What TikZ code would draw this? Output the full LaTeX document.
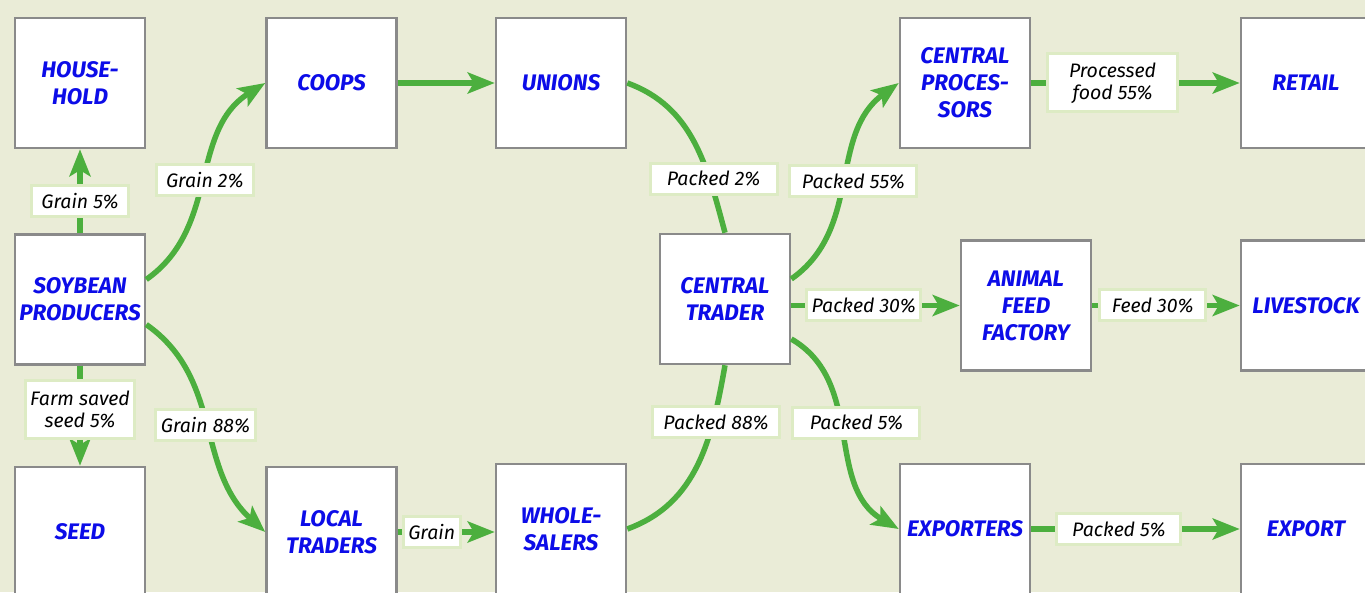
\documentclass[tikz,border=0pt]{standalone}
\usepackage{fontspec}
\setmainfont{Fira Sans}
\usepackage{xcolor}
\usepackage{tikz}
\usetikzlibrary{arrows.meta}

\definecolor{bgcol}{RGB}{234,236,215}
\definecolor{flowgreen}{RGB}{76,175,62}
\definecolor{boxgray}{RGB}{138,138,138}
\definecolor{shareborder}{RGB}{221,235,196}
\definecolor{actorblue}{RGB}{12,12,232}

\begin{document}
\begin{tikzpicture}[
    x=1pt, y=1pt,
    actor/.style={rectangle, draw=boxgray, line width=2.5pt, fill=white, minimum width=130pt, minimum height=130pt, inner sep=2pt, align=center, text=actorblue, font=\fontsize{22.5}{27}\selectfont\bfseries\itshape},
    flow/.style={-{Stealth[length=27pt, width=21pt, inset=6pt]}, line width=5.5pt, flowgreen},
    link/.style={line width=5.5pt, flowgreen},
    share/.style={rectangle, fill=white, draw=shareborder, line width=3pt, text=black, inner xsep=5pt, inner ysep=3pt, minimum height=31pt, align=center, font=\fontsize{19.5}{22}\selectfont\itshape}
]

\fill[bgcol] (0,0) rectangle (1365,592);
\useasboundingbox (0,0) rectangle (1365,592);

\node[actor] (house) at (80,509) {HOUSE-\\HOLD};
\node[actor] (soy) at (80,292.5) {SOYBEAN\\PRODUCERS};
\node[actor] (seed) at (80,60) {SEED};
\node[actor] (coops) at (331.5,509) {COOPS};
\node[actor] (unions) at (561,509) {UNIONS};
\node[actor] (local) at (331.5,60) {LOCAL\\TRADERS};
\node[actor] (whole) at (561,63) {WHOLE-\\SALERS};
\node[actor] (trader) at (725,293) {CENTRAL\\TRADER};
\node[actor] (cproc) at (965,509) {CENTRAL\\PROCES-\\SORS};
\node[actor] (retail) at (1306,509) {RETAIL};
\node[actor] (feed) at (1026,286.5) {ANIMAL\\FEED\\FACTORY};
\node[actor] (stock) at (1306,286.5) {LIVESTOCK};
\node[actor] (exporters) at (965,63) {EXPORTERS};
\node[actor] (export) at (1306,63) {EXPORT};

\draw[flow] (soy) -- (house) node[share, pos=0.38, minimum width=97pt] (s-house) {Grain 5\%};
\draw[flow] (soy) -- (seed) node[share, pos=0.44, minimum height=58pt] (s-seed) {Farm saved\\seed 5\%};
\draw[flow] ([yshift=20pt]soy.east) to[out=35, in=212] node[share, pos=0.5, minimum width=97pt] (s-coops) {Grain 2\%} (coops.west);
\draw[flow] ([yshift=-25pt]soy.east) to[out=-35, in=138] node[share, pos=0.5, xshift=-3pt, minimum width=97pt] (s-local) {Grain 88\%} (local.west);

\draw[flow] (coops) -- (unions);
\draw[flow] (local.east) -- (local.east -| whole.west) node[share, pos=0.35] (s-whole) {Grain};

\draw[link] (unions.east) to[out=-20, in=105] node[share, pos=0.72, xshift=4pt, minimum width=127pt] (s-unions) {Packed 2\%} (trader.north);
\draw[link] (whole.east) to[out=20, in=-100] node[share, pos=0.73, xshift=3pt, minimum width=127pt] (s-wholes) {Packed 88\%} (trader.south);

\draw[flow] ([yshift=20pt]trader.east) to[out=35, in=216] node[share, pos=0.5, xshift=8pt, minimum width=127pt] (s-cproc) {Packed 55\%} (cproc.west);
\draw[flow] (trader.east |- feed.west) -- (feed.west) node[share, pos=0.43] (s-feed) {Packed 30\%};
\draw[flow] ([yshift=-40pt]trader.east) to[out=-30, in=150] node[share, pos=0.45, xshift=14pt, minimum width=127pt] (s-exporters) {Packed 5\%} (exporters.west);

\draw[flow] (cproc) -- (retail) node[share, pos=0.39, minimum width=130pt, minimum height=58pt] (s-retail) {Processed\\food 55\%};
\draw[flow] (feed) -- (stock) node[share, pos=0.41, minimum width=106pt] (s-stock) {Feed 30\%};
\draw[flow] (exporters) -- (export) node[share, pos=0.42, minimum width=124pt] (s-export) {Packed 5\%};

\end{tikzpicture}
\end{document}
